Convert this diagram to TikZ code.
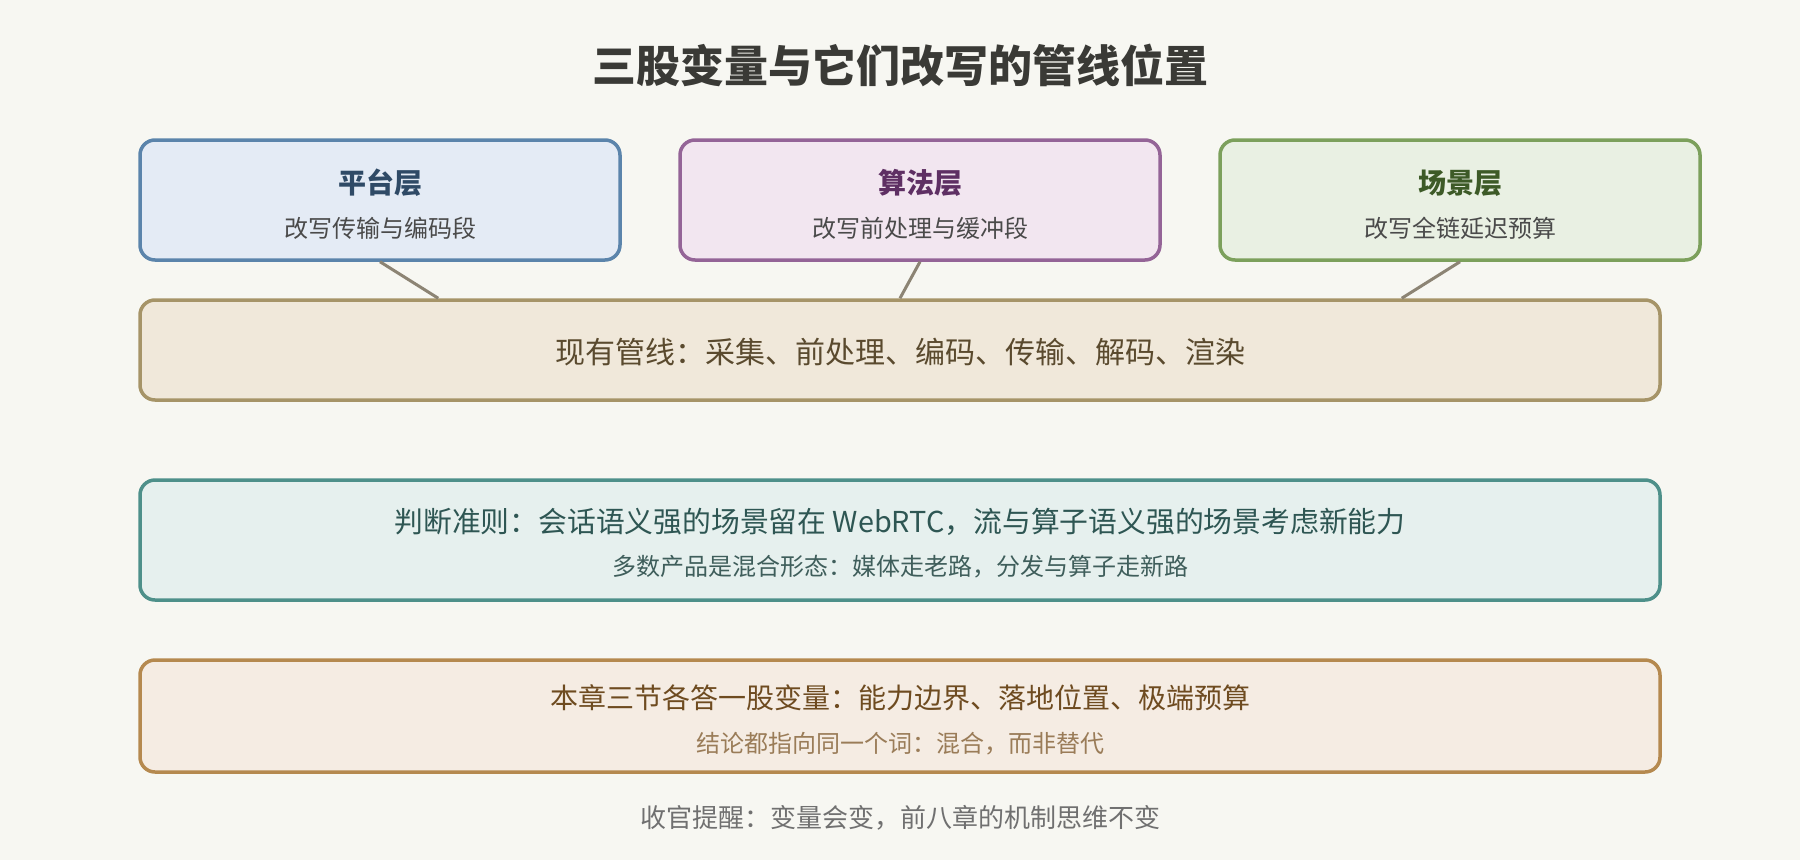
\documentclass[tikz,border=0pt]{standalone}
\usepackage{fontspec}
\setmainfont{Noto Sans CJK SC}
\usetikzlibrary{calc}
\definecolor{bg}{HTML}{F7F7F2}
\definecolor{titlec}{HTML}{3A3A36}
\definecolor{subc}{HTML}{4A4A4A}
\definecolor{bAfill}{HTML}{E4EBF5}\definecolor{bAdraw}{HTML}{5B84AB}\definecolor{bAtext}{HTML}{2F4A66}
\definecolor{bBfill}{HTML}{F2E6F0}\definecolor{bBdraw}{HTML}{946497}\definecolor{bBtext}{HTML}{5E2F63}
\definecolor{bCfill}{HTML}{E9F0E3}\definecolor{bCdraw}{HTML}{7CA05C}\definecolor{bCtext}{HTML}{3D5A27}
\definecolor{pfill}{HTML}{F0E8DA}\definecolor{pdraw}{HTML}{A69468}\definecolor{ptext}{HTML}{5A4A2E}
\definecolor{cfill}{HTML}{E6F0EE}\definecolor{cdraw}{HTML}{4E908A}\definecolor{ctext}{HTML}{2E5653}\definecolor{csub}{HTML}{3F5E5B}
\definecolor{hfill}{HTML}{F5ECE3}\definecolor{hdraw}{HTML}{B5894F}\definecolor{htext}{HTML}{6E4B20}\definecolor{hsub}{HTML}{9A7C58}
\definecolor{footc}{HTML}{707070}
\definecolor{linkc}{HTML}{8C8474}
\tikzset{
  panel/.style={rectangle, rounded corners=15pt, line width=3.5pt, inner sep=0pt},
  txt/.style={inner sep=0pt, anchor=center},
  link/.style={draw=linkc, line width=3pt},
}
\newcommand{\fs}[1]{\fontsize{#1pt}{#1pt}\selectfont}
\begin{document}
\begin{tikzpicture}[x=1pt,y=-1pt]
\fill[bg] (0,0) rectangle (1800,860);
\useasboundingbox (0,0) rectangle (1800,860);

\node[txt, text=titlec, font=\fs{44}\bfseries] (title) at (900,65) {三股变量与它们改写的管线位置};

\node[panel, fill=bAfill, draw=bAdraw, minimum width=480pt, minimum height=120pt] (bA) at (380,200) {};
\node[panel, fill=bBfill, draw=bBdraw, minimum width=480pt, minimum height=120pt] (bB) at (920,200) {};
\node[panel, fill=bCfill, draw=bCdraw, minimum width=480pt, minimum height=120pt] (bC) at (1460,200) {};

\node[txt, text=bAtext, font=\fs{28}\bfseries] (bAt) at (380,183) {平台层};
\node[txt, text=subc, font=\fs{24}] (bAs) at (380,228) {改写传输与编码段};
\node[txt, text=bBtext, font=\fs{28}\bfseries] (bBt) at (920,183) {算法层};
\node[txt, text=subc, font=\fs{24}] (bBs) at (920,228) {改写前处理与缓冲段};
\node[txt, text=bCtext, font=\fs{28}\bfseries] (bCt) at (1460,183) {场景层};
\node[txt, text=subc, font=\fs{24}] (bCs) at (1460,228) {改写全链延迟预算};

\node[panel, fill=pfill, draw=pdraw, minimum width=1520pt, minimum height=100pt] (pipe) at (900,350) {};
\node[txt, text=ptext, font=\fs{30}] (pipet) at (900,352) {现有管线：采集、前处理、编码、传输、解码、渲染};

\draw[link] (bA.south) -- ($(pipe.north west)+(300,0)$);
\draw[link] (bB.south) -- (pipe.north);
\draw[link] (bC.south) -- ($(pipe.north east)+(-260,0)$);

\node[panel, fill=cfill, draw=cdraw, minimum width=1520pt, minimum height=120pt] (crit) at (900,540) {};
\node[txt, text=ctext, font=\fs{28.8}] (critt) at (900,522) {判断准则：会话语义强的场景留在 WebRTC，流与算子语义强的场景考虑新能力};
\node[txt, text=csub, font=\fs{24}] (crits) at (900,567) {多数产品是混合形态：媒体走老路，分发与算子走新路};

\node[panel, fill=hfill, draw=hdraw, minimum width=1520pt, minimum height=112pt] (chap) at (900,716) {};
\node[txt, text=htext, font=\fs{28}] (chapt) at (900,698) {本章三节各答一股变量：能力边界、落地位置、极端预算};
\node[txt, text=hsub, font=\fs{24}] (chaps) at (900,744) {结论都指向同一个词：混合，而非替代};

\node[txt, text=footc, font=\fs{26}] (foot) at (900,818) {收官提醒：变量会变，前八章的机制思维不变};
\end{tikzpicture}
\end{document}
